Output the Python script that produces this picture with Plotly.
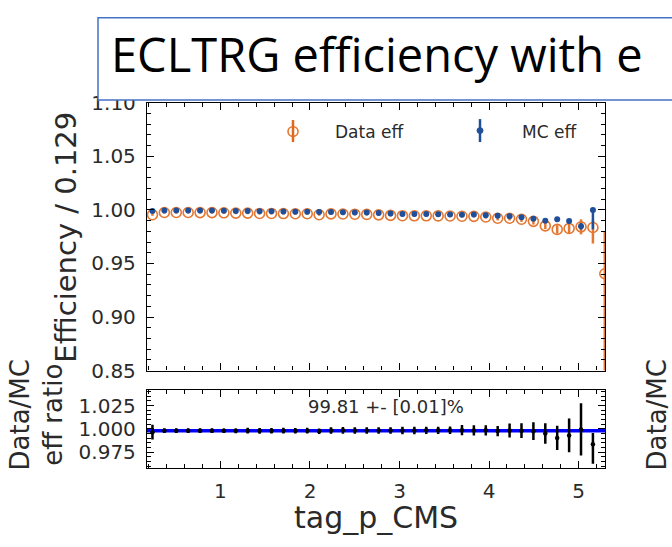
import plotly.graph_objects as go

# ---- binning of tag_p_CMS (bin centres) ----
p_cms = [0.240, 0.373, 0.506, 0.639, 0.772, 0.905, 1.038, 1.171, 1.304, 1.437,
         1.570, 1.703, 1.836, 1.969, 2.102, 2.235, 2.368, 2.501, 2.634, 2.767,
         2.900, 3.033, 3.166, 3.299, 3.432, 3.565, 3.698, 3.831, 3.964, 4.097,
         4.230, 4.363, 4.496, 4.629, 4.762, 4.895, 5.028, 5.161, 5.294]

# ---- efficiencies (normalised) ----
data_eff = [0.9955, 0.9976, 0.9976, 0.9976, 0.9975, 0.9975, 0.9973, 0.9970, 0.9970, 0.9967,
            0.9967, 0.9966, 0.9964, 0.9964, 0.9955, 0.9963, 0.9962, 0.9960, 0.9958, 0.9954,
            0.9949, 0.9946, 0.9945, 0.9945, 0.9944, 0.9943, 0.9941, 0.9940, 0.9934, 0.9922,
            0.9922, 0.9913, 0.9893, 0.9851, 0.9818, 0.9827, 0.9842, 0.9836, 0.9404]
data_err_hi = [0.001] * 28 + [0.0015, 0.002, 0.002, 0.0025, 0.003, 0.003, 0.004, 0.005, 0.007, 0.007, 0.040]
data_err_lo = [0.001] * 28 + [0.0015, 0.002, 0.002, 0.0025, 0.003, 0.003, 0.004, 0.005, 0.007, 0.015, 0.120]

mc_eff = [0.9990, 0.9995, 0.9995, 0.9995, 0.9994, 0.9994, 0.9993, 0.9991, 0.9989, 0.9988,
          0.9987, 0.9985, 0.9984, 0.9983, 0.9980, 0.9980, 0.9978, 0.9977, 0.9975, 0.9972,
          0.9966, 0.9963, 0.9962, 0.9961, 0.9960, 0.9958, 0.9955, 0.9957, 0.9950, 0.9946,
          0.9940, 0.9932, 0.9917, 0.9899, 0.9914, 0.9896, 0.9848, 1.0000]
mc_err_hi = [0.0005] * 33 + [0.001, 0.0015, 0.002, 0.003, 0.0]
mc_err_lo = [0.0005] * 33 + [0.001, 0.0015, 0.002, 0.003, 0.018]

# ---- Data/MC ratio uncertainties ----
ratio_err_hi = ([0.008] + [0.0025] * 7 + [0.003] * 7 + [0.0035] * 6 + [0.004] * 5 +
                [0.0055] * 4 + [0.0075, 0.008, 0.0095, 0.011, 0.013, 0.018, 0.028, 0.012])
ratio_err_lo = ([0.008] + [0.0025] * 7 + [0.003] * 7 + [0.0035] * 6 + [0.004] * 5 +
                [0.0055] * 4 + [0.0075, 0.008, 0.0095, 0.011, 0.013, 0.018, 0.028, 0.021])

fit_pct = 99.81
fit_pct_err = 0.01

ratio = [d / m for d, m in zip(data_eff, mc_eff)]
p_ratio = p_cms[:len(mc_eff)]

W, H = 672, 547
ORANGE = "#e2691c"
BLUE = "#1f4f98"
TXT = "#2a2a2a"
FONT = "DejaVu Sans"


def px(x):
    return x / W


def py(y):
    return 1 - y / H


fig = go.Figure()

fig.add_trace(go.Scatter(
    x=p_cms, y=data_eff, mode="markers", name="Data eff",
    marker=dict(symbol="circle-open", size=10, color=ORANGE, line=dict(width=1.6)),
    opacity=0.9,
    error_y=dict(type="data", symmetric=False, array=data_err_hi, arrayminus=data_err_lo,
                 color=ORANGE, thickness=2.5, width=0),
    xaxis="x", yaxis="y", showlegend=False))

fig.add_trace(go.Scatter(
    x=p_ratio, y=mc_eff, mode="markers", name="MC eff",
    marker=dict(symbol="circle", size=6, color=BLUE),
    error_y=dict(type="data", symmetric=False, array=mc_err_hi, arrayminus=mc_err_lo,
                 color=BLUE, thickness=2.5, width=0),
    xaxis="x", yaxis="y", showlegend=False))

fig.add_trace(go.Scatter(
    x=p_ratio, y=ratio, mode="markers", name="Data/MC",
    marker=dict(symbol="circle", size=4.5, color="black"),
    error_y=dict(type="data", symmetric=False, array=ratio_err_hi, arrayminus=ratio_err_lo,
                 color="black", thickness=2.5, width=0),
    xaxis="x2", yaxis="y2", showlegend=False))

x_dom = [px(147), px(605)]
x_rng = [0.179, 5.296]

axis_common = dict(
    showline=True, linecolor="black", linewidth=1.3, mirror="allticks",
    ticks="inside", ticklen=7, tickwidth=1.2, tickcolor="black",
    showgrid=False, zeroline=False,
    tickfont=dict(family=FONT, size=20, color=TXT),
)

fig.update_layout(
    width=W, height=H,
    margin=dict(l=0, r=0, t=0, b=0),
    paper_bgcolor="white", plot_bgcolor="white",
    xaxis=dict(domain=x_dom, range=x_rng, anchor="y", dtick=1, tick0=0,
               showticklabels=False,
               minor=dict(dtick=0.2, tick0=0, ticks="inside", ticklen=4, tickcolor="black"),
               **axis_common),
    yaxis=dict(domain=[py(375), py(95)], range=[0.85, 1.10], anchor="x",
               dtick=0.05, tick0=0.85, tickformat=".2f", ticklabelstandoff=6,
               minor=dict(dtick=0.01, tick0=0.85, ticks="inside", ticklen=4, tickcolor="black"),
               **axis_common),
    xaxis2=dict(domain=x_dom, range=x_rng, anchor="y2", dtick=1, tick0=0,
                tickformat="d", ticklabelstandoff=5,
                minor=dict(dtick=0.2, tick0=0, ticks="inside", ticklen=4, tickcolor="black"),
                **axis_common),
    yaxis2=dict(domain=[py(477), py(395)], range=[0.958, 1.042], anchor="x2",
                dtick=0.025, tick0=1.0, tickformat=".3f", ticklabelstandoff=6,
                minor=dict(dtick=0.005, tick0=1.0, ticks="inside", ticklen=4, tickcolor="black"),
                **axis_common),
)

shapes = []
# fitted ratio level
shapes.append(dict(type="line", xref="x2 domain", yref="y2", x0=0, x1=1,
                   y0=fit_pct / 100, y1=fit_pct / 100,
                   line=dict(color="#0000ff", width=3.5), layer="below"))
# legend glyphs
shapes.append(dict(type="line", xref="paper", yref="paper", x0=px(293), x1=px(293),
                   y0=py(136), y1=py(113), line=dict(color=ORANGE, width=2.5)))
shapes.append(dict(type="circle", xref="paper", yref="paper",
                   x0=px(288), x1=px(298), y0=py(130), y1=py(120),
                   line=dict(color=ORANGE, width=1.6), fillcolor="rgba(0,0,0,0)", opacity=0.9))
shapes.append(dict(type="line", xref="paper", yref="paper", x0=px(480), x1=px(480),
                   y0=py(136), y1=py(112), line=dict(color=BLUE, width=2.5)))
shapes.append(dict(type="circle", xref="paper", yref="paper",
                   x0=px(477), x1=px(483), y0=py(127), y1=py(121),
                   line=dict(color=BLUE, width=1), fillcolor=BLUE))
# slide title box
shapes.append(dict(type="rect", xref="paper", yref="paper",
                   x0=px(98), x1=px(700), y0=py(92), y1=py(6),
                   line=dict(color="#4472c4", width=1.5), fillcolor="white", layer="above"))
fig.update_layout(shapes=shapes)

ann = []
ann.append(dict(text="ECLTRG efficiency with e", xref="paper", yref="paper",
                x=px(109), y=py(44), xanchor="left", yanchor="middle", showarrow=False,
                font=dict(family="Open Sans", size=47, color="black")))
ann.append(dict(text="Data eff", xref="paper", yref="paper", x=px(333), y=py(125),
                xanchor="left", yanchor="middle", showarrow=False,
                font=dict(family=FONT, size=17, color=TXT)))
ann.append(dict(text="MC eff", xref="paper", yref="paper", x=px(520), y=py(125),
                xanchor="left", yanchor="middle", showarrow=False,
                font=dict(family=FONT, size=17, color=TXT)))
ann.append(dict(text="Efficiency / 0.129", xref="paper", yref="paper", x=px(66), y=py(236),
                xanchor="center", yanchor="middle", textangle=-90, showarrow=False,
                font=dict(family=FONT, size=29, color=TXT)))
ann.append(dict(text="Data/MC<br>eff ratio", xref="paper", yref="paper", x=px(37), y=py(422),
                xanchor="center", yanchor="middle", textangle=-90, showarrow=False,
                font=dict(family=FONT, size=26, color=TXT)))
ann.append(dict(text="tag_p_CMS", xref="paper", yref="paper", x=px(376), y=py(529),
                xanchor="center", yanchor="middle", showarrow=False,
                font=dict(family=FONT, size=30, color=TXT)))
ann.append(dict(text=f"{fit_pct:.2f} +- [{fit_pct_err:.2f}]%", xref="paper", yref="paper",
                x=px(386), y=py(413), xanchor="center", yanchor="middle", showarrow=False,
                font=dict(family=FONT, size=18, color=TXT)))
# neighbouring panel's label at the right edge
ann.append(dict(text="Data/MC", xref="paper", yref="paper", x=px(657), y=py(422),
                xanchor="center", yanchor="middle", textangle=-90, showarrow=False,
                font=dict(family=FONT, size=26, color=TXT)))
fig.update_layout(annotations=ann)

fig.write_html("out.html")
